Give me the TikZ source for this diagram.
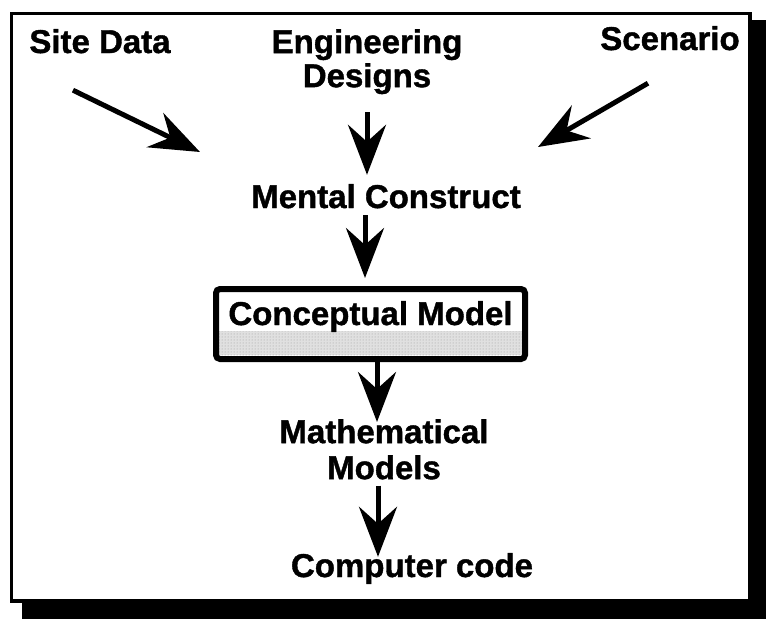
\documentclass[tikz,border=0pt]{standalone}
\usepackage{fontspec}
\setmainfont{Liberation Sans}[BoldFeatures={FakeBold=1.2}]
\usetikzlibrary{arrows.meta,backgrounds,patterns}
\begin{document}
\begin{tikzpicture}[x=1pt,y=-1pt,
  lbl/.style={font=\fontsize{33}{34}\selectfont\bfseries, inner sep=0pt, text height=24pt, text depth=7pt, anchor=base},
  lbltwo/.style={font=\fontsize{33}{34}\selectfont\bfseries, inner sep=0pt, align=center, anchor=north},
  arr/.style={line width=5pt, -{Stealth[length=50pt,width=38pt,inset=17pt]}},
  cbox/.style={draw, line width=6pt, rounded corners=4pt, minimum width=309pt, minimum height=70pt, inner sep=0pt,
    font=\fontsize{33}{34}\selectfont\bfseries, text height=24pt, text depth=22pt},
  band/.style={fill=black!12},
  banddots/.style={pattern=dots, pattern color=black!40}]
\useasboundingbox (0,0) rectangle (766,619);
\begin{scope}[on background layer]
  \fill[white] (0,0) rectangle (766,619);
\end{scope}
% frame and shadow
\fill[black] (750,20) rectangle (766,619);
\fill[black] (22,601) rectangle (766,619);
\draw[line width=3.5pt] (11.5,13.5) rectangle (750,601);
% labels
\node[lbl] (site) at (100,53) {Site Data};
\node[lbltwo] (eng) at (367,29) {Engineering\\Designs};
\node[lbl] (scen) at (670,50) {Scenario};
\node[lbl] (mental) at (386,208) {Mental Construct};
\node[cbox] (cm) at (370.5,324) {Conceptual Model};
\node[lbltwo, font=\fontsize{33}{36}\selectfont\bfseries] (math) at (384,419) {Mathematical\\Models};
\node[lbl] (code) at (412,577) {Computer code};
% stippled band in the box
\begin{scope}[on background layer]
  \fill[band] ([shift={(6,-7)}]cm.south west) rectangle ([shift={(-6,-31)}]cm.south east);
  \fill[banddots] ([shift={(6,-7)}]cm.south west) rectangle ([shift={(-6,-31)}]cm.south east);
\end{scope}
% free arrow ends
\coordinate (sitetip) at (200,152);
\coordinate (scentip) at (538,147);
% connectors
\draw[arr] ([shift={(-27,30)}]site.south) -- (sitetip);
\draw[arr] ([shift={(-22,26)}]scen.south) -- (scentip);
\draw[arr, shorten <=18pt, shorten >=9pt] (eng.south) -- ([xshift=-19pt]mental.north);
\draw[arr, shorten >=8pt] ([xshift=-21pt]mental.south) -- ([xshift=-5.5pt]cm.north);
\draw[arr, shorten >=-3pt] ([xshift=6.5pt]cm.south) -- ([xshift=-7pt]math.north);
\draw[arr, shorten <=6pt, shorten >=-4pt] ([xshift=-6pt]math.south) -- ([xshift=-34pt]code.north);
\end{tikzpicture}
\end{document}
